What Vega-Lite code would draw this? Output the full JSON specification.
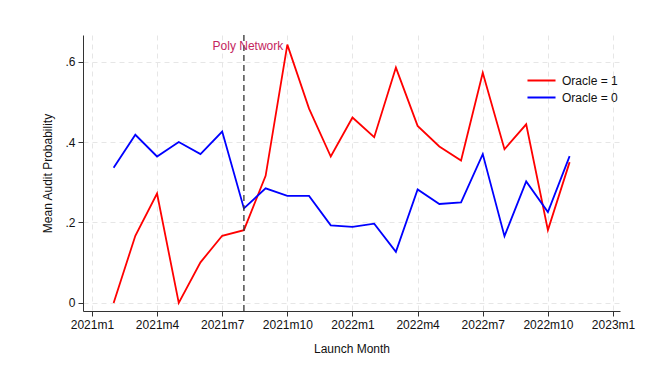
{
  "$schema": "https://vega.github.io/schema/vega-lite/v6.json",
  "width": 537,
  "height": 276,
  "autosize": {"type": "none"},
  "padding": {"left": 83, "top": 35, "right": 45, "bottom": 66},
  "background": "white",
  "config": {
    "font": "Liberation Sans",
    "view": {"stroke": null},
    "axis": {
      "domainColor": "#333333",
      "tickColor": "#333333",
      "labelColor": "#111111",
      "titleColor": "#111111",
      "labelFontSize": 12,
      "titleFontSize": 12,
      "titleFontWeight": "normal",
      "gridColor": "#e6e6e6",
      "gridDash": [5, 4],
      "gridWidth": 1
    }
  },
  "datasets": {
    "series": [
      {"m": 1, "s": "Oracle = 1", "v": 0.0},
      {"m": 2, "s": "Oracle = 1", "v": 0.167},
      {"m": 3, "s": "Oracle = 1", "v": 0.272},
      {"m": 4, "s": "Oracle = 1", "v": 0.0},
      {"m": 5, "s": "Oracle = 1", "v": 0.101},
      {"m": 6, "s": "Oracle = 1", "v": 0.167},
      {"m": 7, "s": "Oracle = 1", "v": 0.181},
      {"m": 8, "s": "Oracle = 1", "v": 0.316},
      {"m": 9, "s": "Oracle = 1", "v": 0.642},
      {"m": 10, "s": "Oracle = 1", "v": 0.483},
      {"m": 11, "s": "Oracle = 1", "v": 0.364},
      {"m": 12, "s": "Oracle = 1", "v": 0.461},
      {"m": 13, "s": "Oracle = 1", "v": 0.412},
      {"m": 14, "s": "Oracle = 1", "v": 0.585},
      {"m": 15, "s": "Oracle = 1", "v": 0.44},
      {"m": 16, "s": "Oracle = 1", "v": 0.389},
      {"m": 17, "s": "Oracle = 1", "v": 0.354},
      {"m": 18, "s": "Oracle = 1", "v": 0.572},
      {"m": 19, "s": "Oracle = 1", "v": 0.382},
      {"m": 20, "s": "Oracle = 1", "v": 0.444},
      {"m": 21, "s": "Oracle = 1", "v": 0.181},
      {"m": 22, "s": "Oracle = 1", "v": 0.35},
      {"m": 1, "s": "Oracle = 0", "v": 0.336},
      {"m": 2, "s": "Oracle = 0", "v": 0.418},
      {"m": 3, "s": "Oracle = 0", "v": 0.364},
      {"m": 4, "s": "Oracle = 0", "v": 0.4},
      {"m": 5, "s": "Oracle = 0", "v": 0.37},
      {"m": 6, "s": "Oracle = 0", "v": 0.426},
      {"m": 7, "s": "Oracle = 0", "v": 0.235},
      {"m": 8, "s": "Oracle = 0", "v": 0.285},
      {"m": 9, "s": "Oracle = 0", "v": 0.266},
      {"m": 10, "s": "Oracle = 0", "v": 0.266},
      {"m": 11, "s": "Oracle = 0", "v": 0.193},
      {"m": 12, "s": "Oracle = 0", "v": 0.189},
      {"m": 13, "s": "Oracle = 0", "v": 0.197},
      {"m": 14, "s": "Oracle = 0", "v": 0.127},
      {"m": 15, "s": "Oracle = 0", "v": 0.282},
      {"m": 16, "s": "Oracle = 0", "v": 0.246},
      {"m": 17, "s": "Oracle = 0", "v": 0.25},
      {"m": 18, "s": "Oracle = 0", "v": 0.37},
      {"m": 19, "s": "Oracle = 0", "v": 0.166},
      {"m": 20, "s": "Oracle = 0", "v": 0.302},
      {"m": 21, "s": "Oracle = 0", "v": 0.226},
      {"m": 22, "s": "Oracle = 0", "v": 0.365}
    ],
    "event": [{"m": 7, "label": "Poly Network", "y": 0.638}]
  },
  "layer": [
    {
      "data": {"name": "series"},
      "mark": {"type": "line", "strokeWidth": 1.8},
      "encoding": {
        "x": {
          "field": "m",
          "type": "quantitative",
          "scale": {"domain": [-0.41, 24.32], "nice": false, "zero": false},
          "axis": {
            "title": "Launch Month",
            "values": [0, 3, 6, 9, 12, 15, 18, 21, 24],
            "labelExpr": "(2021 + floor(datum.value / 12)) + 'm' + (datum.value % 12 + 1)",
            "grid": true,
            "tickSize": 5,
            "labelPadding": 3,
            "titlePadding": 13,
            "labelFlush": false,
            "labelOverlap": false
          }
        },
        "y": {
          "field": "v",
          "type": "quantitative",
          "scale": {"domain": [-0.02, 0.666], "nice": false, "zero": false},
          "axis": {
            "title": "Mean Audit Probability",
            "values": [0, 0.2, 0.4, 0.6],
            "labelExpr": "datum.value == 0 ? '0' : replace(format(datum.value, '.1f'), '0.', '.')",
            "grid": true,
            "tickSize": 5,
            "labelPadding": 3,
            "titlePadding": 10,
            "labelFlush": false
          }
        },
        "color": {
          "field": "s",
          "type": "nominal",
          "scale": {"domain": ["Oracle = 1", "Oracle = 0"], "range": ["#ff0000", "#0000ff"]},
          "legend": {
            "title": null,
            "orient": "none",
            "legendX": 449,
            "legendY": 36,
            "symbolType": "M-1.65,0L1.65,0",
            "symbolSize": 289,
            "symbolStrokeWidth": 2,
            "labelFontSize": 12,
            "labelColor": "#111111",
            "rowPadding": 1,
            "labelOffset": 11
          }
        }
      }
    },
    {
      "data": {"name": "event"},
      "mark": {"type": "rule", "strokeDash": [6, 4], "color": "#333333", "strokeWidth": 1.3},
      "encoding": {
        "x": {"field": "m", "type": "quantitative"}
      }
    },
    {
      "data": {"name": "event"},
      "mark": {"type": "text", "color": "#c4265e", "fontSize": 12, "align": "center", "baseline": "middle", "dx": 4},
      "encoding": {
        "x": {"field": "m", "type": "quantitative"},
        "y": {"field": "y", "type": "quantitative"},
        "text": {"field": "label"}
      }
    }
  ]
}
